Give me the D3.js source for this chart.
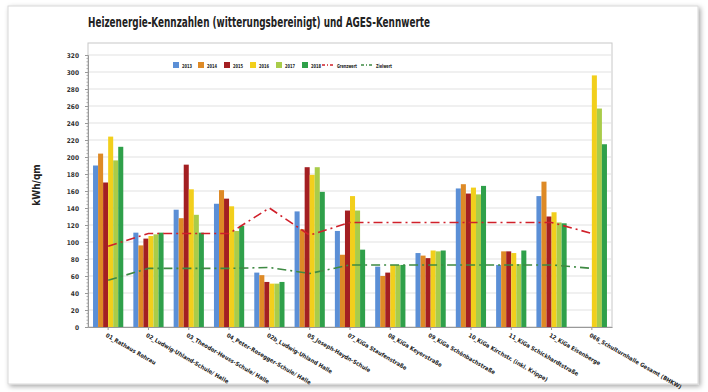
<!DOCTYPE html>
<html><head><meta charset="utf-8">
<script src="https://cdn.jsdelivr.net/npm/d3@7"></script>
<style>
body{margin:0;background:#fff;}
svg text{font-family:"Liberation Sans Narrow","DejaVu Sans Condensed","Roboto",sans-serif;}
</style></head>
<body><svg id="c" width="708" height="392"></svg>
<script>
const categories = ["01_Rathaus Rohrau","02_Ludwig-Uhland-Schule/ Halle","03_Theodor-Heuss-Schule/ Halle","04_Peter-Rosegger-Schule/ Halle","02b_Ludwig-Uhland Halle","05_Joseph-Haydn-Schule","07_KiGa Staufenstraße","08_KiGa Keyerstraße","09_KiGa Schönbachstraße","10_KiGa Kirchstr. (inkl. Krippe)","11_KiGa Schickhardtstraße","12_KiGa Eisenberge","066_Schulturnhalle Gesamt (BHKW)"];
const years = ["2013","2014","2015","2016","2017","2018"];
const colors = ["#5b8fd6","#de8a26","#a31f22","#f2cf1c","#a9cc4a","#2fa04a"];
const v2013 = [190,111,138,145,64,136,113,71,87,163,73,154,null];
const v2014 = [204,96,128,161,61,115,85,60,84,168,89,171,null];
const v2015 = [170,104,191,151,53,188,137,64,81,157,89,130,null];
const v2016 = [224,107,162,142,51,179,154,73,90,164,87,135,296];
const v2017 = [196,109,132,113,51,188,137,73,89,156,74,123,257];
const v2018 = [212,111,111,119,53,159,91,73,90,166,90,122,215];
const grenzwert = [95,110,110,110,140,108,123,123,123,123,123,123,110];
const zielwert = [55,69,69,69,70,63,73,73,73,73,73,73,69];
const yTicks = [0,20,40,60,80,100,120,140,160,180,200,220,240,260,280,300,320];
const series = [v2013,v2014,v2015,v2016,v2017,v2018];

const svg = d3.select("#c");
const defs = svg.append("defs");
const f = defs.append("filter").attr("id","sh").attr("x","-5%").attr("y","-5%").attr("width","110%").attr("height","115%");
f.append("feDropShadow").attr("dx",2).attr("dy",2).attr("stdDeviation",2.5).attr("flood-color","#000").attr("flood-opacity",0.35);
svg.append("rect").attr("x",8).attr("y",6).attr("width",690).attr("height",378).attr("fill","#fff").attr("stroke","#d8d8d8").attr("filter","url(#sh)");

const L=88, R=612, T=43, B=327;
const x = d3.scaleBand().domain(categories).range([L,R]).paddingInner(0.25).paddingOuter(0.125);
const xi = d3.scaleBand().domain(years).range([0,x.bandwidth()]);
const y = d3.scaleLinear().domain([0,320]).range([B,B-0.85*320]);

svg.append("text").attr("x",88).attr("y",27).attr("font-size",14).attr("font-weight","bold").attr("fill","#222")
  .attr("textLength",342).attr("lengthAdjust","spacingAndGlyphs")
  .text("Heizenergie-Kennzahlen (witterungsbereinigt) und AGES-Kennwerte");

svg.append("rect").attr("x",L).attr("y",T).attr("width",R-L).attr("height",B-T).attr("fill","none").attr("stroke","#c8c8c8");
svg.append("g").selectAll("line").data(yTicks.filter(d=>d>0)).join("line")
  .attr("x1",L).attr("x2",R).attr("y1",d=>y(d)).attr("y2",d=>y(d)).attr("stroke","#e2e2e2").attr("stroke-width",1.2);

const g = svg.append("g");
categories.forEach((c,i)=>{
  series.forEach((s,j)=>{
    if(s[i]==null) return;
    g.append("rect").attr("x",x(c)+xi(years[j])).attr("y",y(s[i])).attr("width",xi.bandwidth()).attr("height",B-y(s[i])).attr("fill",colors[j]);
  });
});

const line = d3.line().x((d,i)=>x(categories[i])+x.bandwidth()/2).y(d=>y(d));
svg.append("path").attr("d",line(grenzwert)).attr("fill","none").attr("stroke","#d0202a").attr("stroke-width",1.6).attr("stroke-dasharray","9,4,2,4");
svg.append("path").attr("d",line(zielwert)).attr("fill","none").attr("stroke","#3e8a43").attr("stroke-width",1.6).attr("stroke-dasharray","9,4,2,4");

const ya = svg.append("g").attr("transform",`translate(${L},0)`)
  .call(d3.axisLeft(y).tickValues(yTicks).tickSize(3).tickPadding(6));
ya.select(".domain").attr("stroke","#999");
ya.selectAll(".tick line").attr("stroke","#999");
ya.selectAll("text").attr("font-size",6.5).attr("fill","#333").attr("font-weight","bold");
svg.append("g").selectAll("line").data(d3.range(0,321,4).filter(d=>d%20)).join("line")
  .attr("x1",L-1.5).attr("x2",L).attr("y1",d=>y(d)).attr("y2",d=>y(d)).attr("stroke","#aaa");
svg.append("text").attr("transform","translate(40,185) rotate(-90)").attr("text-anchor","middle")
  .attr("font-size",10).attr("font-weight","bold").attr("fill","#222").text("kWh/qm");

const xa = svg.append("g").attr("transform",`translate(0,${B})`).call(d3.axisBottom(x).tickSize(3).tickSizeOuter(0));
xa.select(".domain").attr("stroke","#999");
xa.selectAll(".tick line").attr("stroke","#999");
xa.selectAll("text").attr("font-size",5.8).attr("fill","#222").attr("font-weight","bold")
  .attr("text-anchor","start").attr("transform","translate(-2,8) rotate(30)").attr("dy","0.3em").attr("y",0).attr("x",0);

const lg = svg.append("g");
const lx = [173,198,224,250,276,302];
years.forEach((yr,j)=>{
  lg.append("rect").attr("x",lx[j]).attr("y",62).attr("width",6).attr("height",6).attr("fill",colors[j]);
  lg.append("text").attr("x",lx[j]+9).attr("y",67.5).attr("font-size",5.5).attr("font-weight","bold").attr("fill","#222")
    .attr("textLength",10).attr("lengthAdjust","spacingAndGlyphs").text(yr);
});
lg.append("line").attr("x1",322).attr("x2",335).attr("y1",65).attr("y2",65).attr("stroke","#d0202a").attr("stroke-width",1.3).attr("stroke-dasharray","3,2,1,2");
lg.append("text").attr("x",337).attr("y",67.5).attr("font-size",5.5).attr("font-weight","bold").attr("fill","#222")
  .attr("textLength",20).attr("lengthAdjust","spacingAndGlyphs").text("Grenzwert");
lg.append("line").attr("x1",361).attr("x2",374).attr("y1",65).attr("y2",65).attr("stroke","#3e8a43").attr("stroke-width",1.3).attr("stroke-dasharray","3,2,1,2");
lg.append("text").attr("x",376).attr("y",67.5).attr("font-size",5.5).attr("font-weight","bold").attr("fill","#222")
  .attr("textLength",16).attr("lengthAdjust","spacingAndGlyphs").text("Zielwert");
</script></body></html>
